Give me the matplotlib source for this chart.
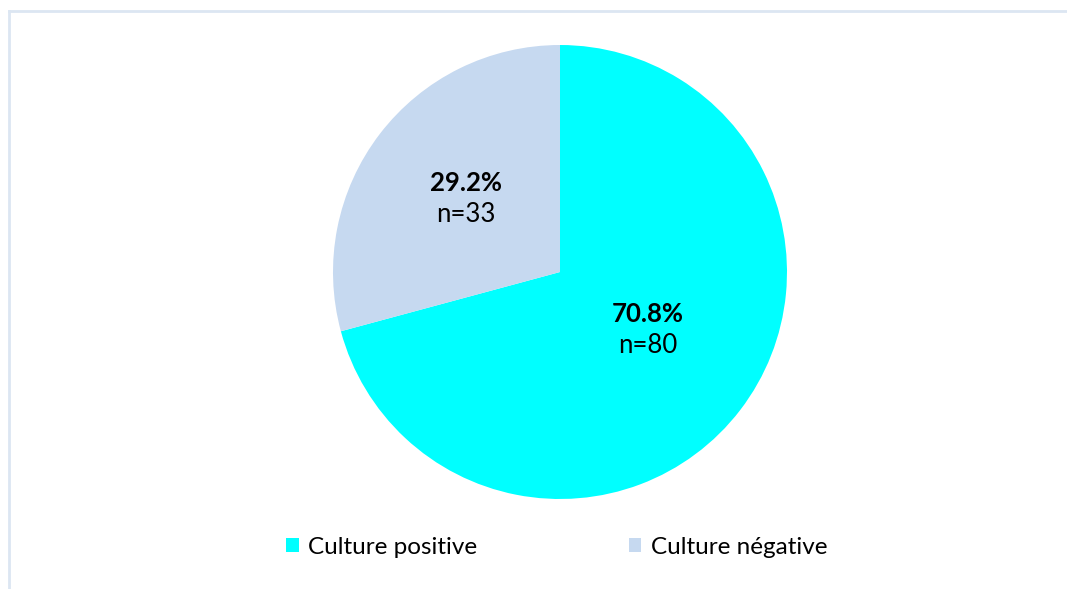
import matplotlib.pyplot as plt
from matplotlib.lines import Line2D
from matplotlib.patches import Patch

categories = ["Culture positive", "Culture négative"]
counts = [80, 33]
colors = ["#00FFFF", "#C6D9F0"]

plt.rcParams['font.family'] = ['Lato', 'DejaVu Sans']

W, H = 1067, 589
fig = plt.figure(figsize=(W / 100, H / 100), dpi=100)

# pie centred at (560, 272) px with radius 227 px
cx, cy, r = 560, 272, 227
ax = fig.add_axes([(cx - r) / W, (H - cy - r) / H, 2 * r / W, 2 * r / H])
wedges, _ = ax.pie(counts, colors=colors, startangle=90, counterclock=False,
                   radius=1, wedgeprops=dict(linewidth=0))
ax.set_xlim(-1, 1)
ax.set_ylim(-1, 1)
ax.set_aspect('equal')
ax.axis('off')

# label anchors inside each wedge (pie radius = 1)
label_pos = [(0.388, -0.255), (-0.414, 0.322)]
total = sum(counts)
for (x, y), n in zip(label_pos, counts):
    ax.text(x, y + 0.07, f"{100 * n / total:.1f}%", ha='center', va='center',
            fontsize=18.5, fontweight='bold')
    ax.text(x, y - 0.07, f"n={n}", ha='center', va='center', fontsize=18.5)

handles = [Patch(facecolor=c, edgecolor='none') for c in colors]
fig.legend(handles, categories, loc='center', bbox_to_anchor=(557 / W, 1 - 547 / H),
           ncol=2, frameon=False, fontsize=17.5, handlelength=0.5, handleheight=0.5,
           handletextpad=0.4, columnspacing=6.25)

# light frame on the top and left sides
frame = dict(color="#DCE6F2", linewidth=2, transform=None)
fig.add_artist(Line2D([9, W], [H - 11, H - 11], **frame))
fig.add_artist(Line2D([9, 9], [0, H - 11], **frame))

fig.savefig("out.png", dpi=100)
